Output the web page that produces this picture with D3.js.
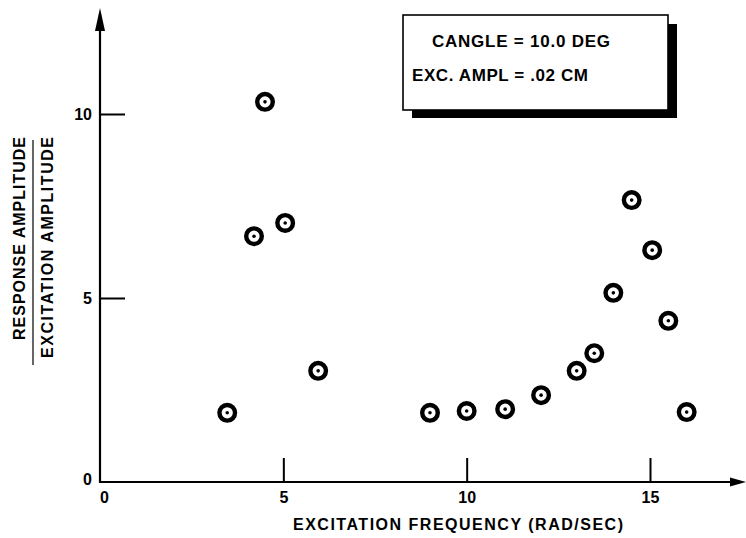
<!DOCTYPE html>
<html lang="en">

<head>
    <meta charset="UTF-8">
    <title>Response Amplitude vs Excitation Frequency</title>
    <style>
        body {
            margin: 0;
            background-color: #fff;
        }

        svg {
            display: block;
            font-family: 'Liberation Sans', Arial, Helvetica, sans-serif;
            font-weight: bold;
        }
    </style>
    <script src="https://d3js.org/d3.v7.min.js"></script>
</head>

<body>
    <div id="chart"></div>
    <script>
        // data
        const frequency = [3.47, 4.2, 4.5, 5.05, 5.95, 9.0, 10.0, 11.05, 12.03, 13.0, 13.48, 14.0, 14.5, 15.06, 15.5, 16.0];
        const ratio = [1.88, 6.68, 10.33, 7.04, 3.02, 1.88, 1.93, 1.98, 2.36, 3.02, 3.5, 5.14, 7.66, 6.3, 4.38, 1.9];
        const xTicks = [0, 5, 10, 15];
        const yTicks = [0, 5, 10];
        const legendLines = ["CANGLE = 10.0 DEG", "EXC. AMPL = .02 CM"];

        const points = frequency.map((f, i) => ({ x: f, y: ratio[i] }));

        const width = 746;
        const height = 538;

        const svg = d3.select("#chart").append("svg")
            .attr("width", width)
            .attr("height", height);

        const x = d3.scaleLinear().domain([0, 15]).range([100, 650]);
        const y = d3.scaleLinear().domain([0, 10]).range([482, 114]);

        const x0 = x(0), y0 = y(0);

        // axes ticks (pointing into the plot)
        const xAxis = svg.append("g")
            .attr("transform", `translate(0,${y0})`)
            .call(d3.axisBottom(x).tickValues(xTicks).tickSize(-24).tickPadding(10).tickFormat(d3.format("d")));

        const yAxis = svg.append("g")
            .attr("transform", `translate(${x0},0)`)
            .call(d3.axisLeft(y).tickValues(yTicks).tickSize(-25).tickPadding(8).tickFormat(d3.format("d")));

        [xAxis, yAxis].forEach(g => {
            g.select(".domain").remove();
            g.selectAll(".tick line").attr("stroke", "#000").attr("stroke-width", 2);
            g.selectAll(".tick text")
                .attr("fill", "#000")
                .style("font-size", "16px")
                .style("font-family", "'Liberation Sans', Arial, sans-serif")
                .style("font-weight", "bold");
        });
        xAxis.selectAll(".tick").filter(d => d === 0).select("line").remove();
        xAxis.selectAll(".tick").filter(d => d === 0).select("text").attr("x", 4);
        yAxis.selectAll(".tick").filter(d => d === 0).select("line").remove();
        yAxis.selectAll(".tick").filter(d => d === 0).select("text").attr("y", -3);

        // axis lines with arrow heads
        svg.append("line")
            .attr("x1", x0).attr("y1", y0)
            .attr("x2", 740).attr("y2", y0)
            .attr("stroke", "#000").attr("stroke-width", 2.2);
        svg.append("path")
            .attr("d", `M746,${y0} L730,${y0 - 4.5} L730,${y0 + 4.5} Z`)
            .attr("fill", "#000");

        svg.append("line")
            .attr("x1", x0).attr("y1", y0 + 1)
            .attr("x2", x0).attr("y2", 14)
            .attr("stroke", "#000").attr("stroke-width", 2.2);
        svg.append("path")
            .attr("d", `M${x0},8 L${x0 - 5},31 L${x0 + 5},31 Z`)
            .attr("fill", "#000");

        // data markers: thick ring with a dot
        const marks = svg.append("g")
            .selectAll("g")
            .data(points)
            .join("g")
            .attr("transform", d => `translate(${x(d.x)},${y(d.y)})`);

        marks.append("circle")
            .attr("r", 7.8)
            .attr("fill", "#fff")
            .attr("stroke", "#000")
            .attr("stroke-width", 4.4);

        marks.append("circle")
            .attr("r", 1.8)
            .attr("fill", "#000");

        // legend box with drop shadow
        const legend = svg.append("g");
        legend.append("rect")
            .attr("x", 412).attr("y", 24)
            .attr("width", 265).attr("height", 94)
            .attr("fill", "#000");
        legend.append("rect")
            .attr("x", 403).attr("y", 15)
            .attr("width", 265).attr("height", 95)
            .attr("fill", "#fff")
            .attr("stroke", "#000")
            .attr("stroke-width", 1.6);

        legend.append("text")
            .attr("x", 432).attr("y", 47)
            .attr("textLength", 178)
            .attr("lengthAdjust", "spacing")
            .style("font-size", "17px")
            .text(legendLines[0]);
        legend.append("text")
            .attr("x", 412).attr("y", 81)
            .attr("textLength", 176)
            .attr("lengthAdjust", "spacing")
            .style("font-size", "17px")
            .text(legendLines[1]);

        // axis titles
        svg.append("text")
            .attr("x", 293).attr("y", 530)
            .attr("textLength", 330)
            .attr("lengthAdjust", "spacing")
            .style("font-size", "16px")
            .text("EXCITATION FREQUENCY (RAD/SEC)");

        svg.append("text")
            .attr("transform", "translate(25,137) rotate(-90)")
            .attr("text-anchor", "end")
            .attr("textLength", 203)
            .attr("lengthAdjust", "spacing")
            .style("font-size", "16px")
            .text("RESPONSE AMPLITUDE");

        svg.append("line")
            .attr("x1", 33).attr("y1", 140)
            .attr("x2", 33).attr("y2", 365)
            .attr("stroke", "#000").attr("stroke-width", 1.2);

        svg.append("text")
            .attr("transform", "translate(53,137) rotate(-90)")
            .attr("text-anchor", "end")
            .attr("textLength", 221)
            .attr("lengthAdjust", "spacing")
            .style("font-size", "16px")
            .text("EXCITATION AMPLITUDE");
    </script>
</body>

</html>
